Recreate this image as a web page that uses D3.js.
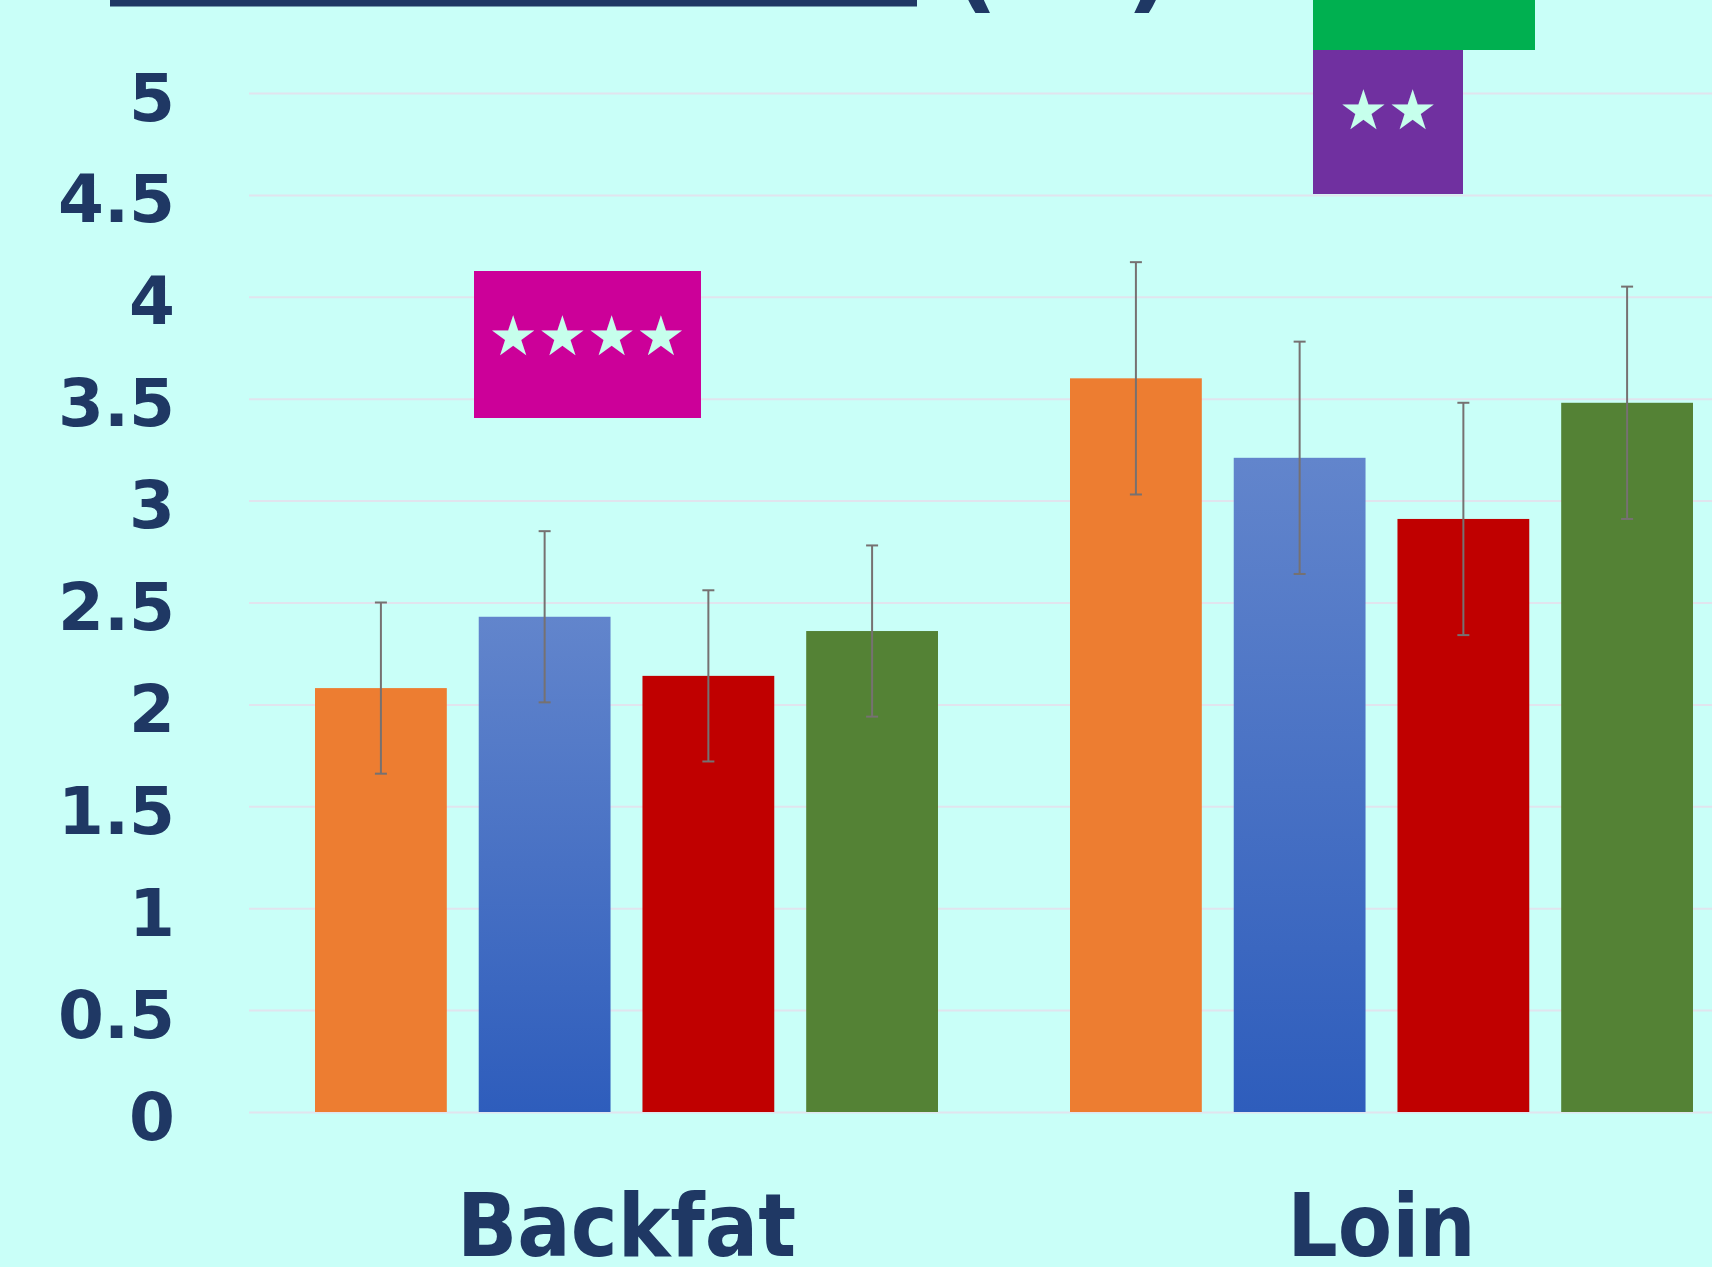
<!DOCTYPE html>
<html lang="en">
<head>
<meta charset="utf-8">
<title>Backfat and Loin</title>
<script src="https://d3js.org/d3.v7.min.js"></script>
<style>
body { margin: 0; background: #C9FFF8; }
.grid line { stroke: #E1E4EE; stroke-width: 2; }
.grid path { display: none; }
.yaxis path, .yaxis line { display: none; }
.yaxis text { font-family: "DejaVu Sans", sans-serif; font-weight: bold; font-size: 66px; fill: #1F3864; }
.xaxis path, .xaxis line { display: none; }
.xaxis text { font-family: "DejaVu Sans Condensed", "DejaVu Sans", sans-serif; font-stretch: condensed; font-weight: bold; font-size: 88px; fill: #1F3864; }
.err { stroke: #767171; stroke-width: 2; }
.stars { font-family: "DejaVu Sans", sans-serif; font-size: 55px; fill: #C6FFEC; }
.paren { font-family: "DejaVu Sans", sans-serif; font-weight: bold; font-size: 100px; fill: #1F3864; }
</style>
</head>
<body>
<div id="chart"></div>
<script>
"use strict"

// dados
var categorias = ["Backfat", "Loin"];
var series = ["T1", "T2", "T3", "T4"];
var backfat = [2.08, 2.43, 2.14, 2.36];
var backfatErro = [0.42, 0.42, 0.42, 0.42];
var loin = [3.60, 3.21, 2.91, 3.48];
var loinErro = [0.57, 0.57, 0.57, 0.57];
var yTicks = [0, 0.5, 1, 1.5, 2, 2.5, 3, 3.5, 4, 4.5, 5];
var estrelasBackfat = "★★★★";
var estrelasLoin = "★★";

function desenha() {
  var largura = 1712, altura = 1267;
  var esq = 249;

  var dados = categorias.map(function(c, i) {
    var v = i === 0 ? backfat : loin;
    var e = i === 0 ? backfatErro : loinErro;
    return { cat: c, barras: series.map(function(s, j) { return { serie: s, valor: v[j], erro: e[j] }; }) };
  });

  var svg = d3.select("#chart").append("svg")
      .attr("width", largura)
      .attr("height", altura)
      .style("display", "block");

  svg.append("rect").attr("width", largura).attr("height", altura).attr("fill", "#C9FFF8");

  var grad = svg.append("defs").append("linearGradient")
      .attr("id", "azul").attr("x1", 0).attr("y1", 0).attr("x2", 0).attr("y2", 1);
  grad.append("stop").attr("offset", "0%").attr("stop-color", "#6285CC");
  grad.append("stop").attr("offset", "100%").attr("stop-color", "#2E5DBC");

  var x = d3.scaleBand().domain(categorias).range([esq, 1759]);
  var x1 = d3.scaleBand().domain(series).range([66, 689]).paddingInner(0.195);
  var y = d3.scaleLinear().domain([0, 5]).range([1112, 93]);
  var cor = d3.scaleOrdinal().domain(series).range(["#ED7D31", "url(#azul)", "#C00000", "#548235"]);

  svg.append("g")
      .attr("class", "grid")
      .attr("transform", "translate(" + esq + ",0)")
      .call(d3.axisLeft(y).tickValues(yTicks).tickSize(-(largura - esq)).tickFormat(""));

  var yax = svg.append("g")
      .attr("class", "yaxis")
      .attr("transform", "translate(175,0)")
      .call(d3.axisLeft(y).tickValues(yTicks).tickSize(0).tickPadding(0).tickFormat(d3.format("")));
  yax.selectAll("text").attr("dy", "0.41em");

  var xax = svg.append("g")
      .attr("class", "xaxis")
      .attr("transform", "translate(0,1256)")
      .call(d3.axisBottom(x).tickSize(0).tickPadding(0));
  xax.selectAll("text").attr("dy", 0);

  var grupos = svg.selectAll(".grupo")
      .data(dados)
    .enter().append("g")
      .attr("class", "grupo")
      .attr("transform", function(d) { return "translate(" + x(d.cat) + ",0)"; });

  grupos.selectAll("rect")
      .data(function(d) { return d.barras; })
    .enter().append("rect")
      .attr("x", function(d) { return x1(d.serie); })
      .attr("y", function(d) { return y(d.valor); })
      .attr("width", x1.bandwidth())
      .attr("height", function(d) { return y(0) - y(d.valor); })
      .attr("fill", function(d) { return cor(d.serie); });

  var barrasErro = grupos.selectAll(".errobar")
      .data(function(d) { return d.barras; })
    .enter().append("g")
      .attr("class", "err")
      .attr("transform", function(d) { return "translate(" + (x1(d.serie) + x1.bandwidth() / 2) + ",0)"; });
  barrasErro.append("line")
      .attr("y1", function(d) { return y(d.valor + d.erro); })
      .attr("y2", function(d) { return y(d.valor - d.erro); });
  barrasErro.append("line")
      .attr("x1", -6).attr("x2", 6)
      .attr("y1", function(d) { return y(d.valor + d.erro); })
      .attr("y2", function(d) { return y(d.valor + d.erro); });
  barrasErro.append("line")
      .attr("x1", -6).attr("x2", 6)
      .attr("y1", function(d) { return y(d.valor - d.erro); })
      .attr("y2", function(d) { return y(d.valor - d.erro); });

  // enfeites do topo (titulo cortado)
  svg.append("rect").attr("x", 110).attr("y", 0).attr("width", 807).attr("height", 6.5).attr("fill", "#1F3864");
  svg.append("text").attr("class", "paren").attr("x", 975).attr("y", 0).attr("text-anchor", "middle").text("(");
  svg.append("text").attr("class", "paren").attr("x", 1149).attr("y", 0).attr("text-anchor", "middle").text(")");

  // caixas de significancia
  svg.append("rect").attr("x", 1313).attr("y", 0).attr("width", 222).attr("height", 50).attr("fill", "#00B050");
  svg.append("rect").attr("x", 1313).attr("y", 50).attr("width", 150).attr("height", 144).attr("fill", "#7030A0");
  svg.append("text").attr("class", "stars").attr("x", 1388).attr("y", 110)
      .attr("text-anchor", "middle").attr("dominant-baseline", "central").text(estrelasLoin);

  svg.append("rect").attr("x", 474).attr("y", 271).attr("width", 227).attr("height", 147).attr("fill", "#CC0099");
  svg.append("text").attr("class", "stars").attr("x", 587).attr("y", 336)
      .attr("text-anchor", "middle").attr("dominant-baseline", "central").text(estrelasBackfat);
}

desenha();
</script>
</body>
</html>
